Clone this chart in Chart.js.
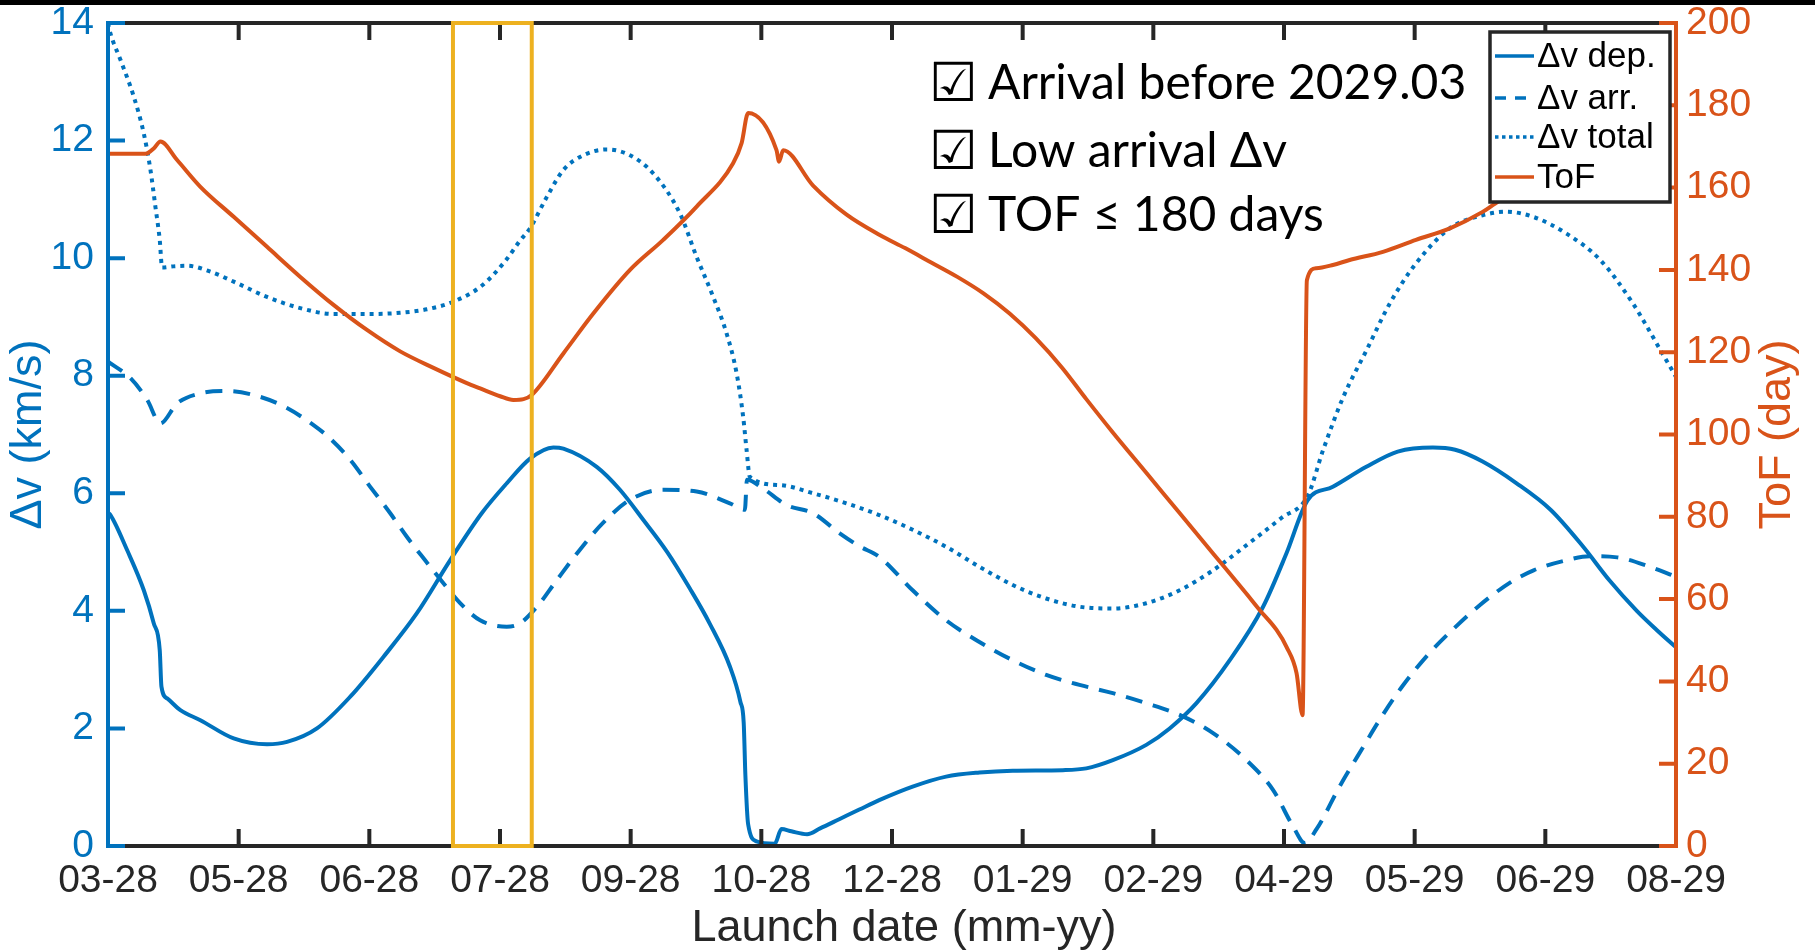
<!DOCTYPE html>
<html>
<head>
<meta charset="utf-8">
<script src="https://cdn.jsdelivr.net/npm/chart.js@4.4.1/dist/chart.umd.min.js"></script>
<style>
html,body{margin:0;padding:0;background:#fff;overflow:hidden}
canvas{display:block}
</style>
</head>
<body>
<canvas id="c" width="1815" height="950"></canvas>
<script>
// ---- tick labels (x axis = evenly spaced launch-date ticks, index 0..12) ----
const xTickLabels = ['03-28','05-28','06-28','07-28','09-28','10-28','12-28','01-29','02-29','04-29','05-29','06-29','08-29'];

// ---- Δv departure (km/s) ----
const depX = [0,0.019,0.147,0.274,0.35,0.396,0.409,0.453,0.554,0.707,0.962,1.217,1.37,1.599,1.854,2.109,2.364,2.618,2.86,3.052,3.23,3.408,3.485,3.74,3.918,4.096,4.28,4.453,4.606,4.76,4.84,4.865,4.878,4.899,4.963,5.103,5.154,5.23,5.35,5.45,5.6,5.75,5.902,6.158,6.414,6.669,6.924,7.307,7.487,7.69,7.946,8.125,8.33,8.585,8.84,9.019,9.18,9.374,9.63,9.87,10.14,10.31,10.52,10.78,11.04,11.29,11.49,11.7,11.85,12];
const depV = [5.67,5.63,5.03,4.35,3.79,3.33,2.71,2.51,2.31,2.14,1.83,1.73,1.77,2.00,2.54,3.22,3.96,4.86,5.66,6.17,6.59,6.78,6.76,6.45,6.06,5.55,5.00,4.38,3.78,3.05,2.45,2.10,1.20,0.37,0.08,0.04,0.29,0.25,0.20,0.30,0.46,0.62,0.78,1.01,1.18,1.25,1.28,1.29,1.32,1.46,1.72,2.00,2.43,3.16,4.07,4.98,5.88,6.11,6.45,6.71,6.78,6.74,6.54,6.17,5.72,5.09,4.52,4.00,3.68,3.38];

// ---- Δv arrival (km/s) ----
const arrX = [0,0.019,0.172,0.30,0.401,0.529,0.707,0.911,1.166,1.37,1.573,1.701,1.854,2.007,2.16,2.287,2.427,2.567,2.695,2.848,3.052,3.154,3.294,3.427,3.604,3.79,3.995,4.249,4.505,4.759,4.874,4.89,5.014,5.193,5.396,5.6,5.75,5.902,6.158,6.414,6.669,6.924,7.18,7.435,7.69,7.946,8.201,8.457,8.713,8.917,9.07,9.159,9.25,9.43,9.61,9.73,9.9,10.1,10.3,10.5,10.73,10.91,11.16,11.34,11.55,11.8,12];
const arrV = [8.24,8.21,7.96,7.59,7.19,7.53,7.70,7.74,7.64,7.45,7.16,6.93,6.57,6.11,5.66,5.26,4.86,4.47,4.13,3.84,3.73,3.79,4.10,4.50,5.02,5.50,5.89,6.06,6.03,5.83,5.72,6.23,6.08,5.80,5.66,5.32,5.10,4.92,4.35,3.84,3.47,3.16,2.91,2.74,2.60,2.43,2.23,1.92,1.46,0.95,0.33,0.05,0.29,1.03,1.70,2.14,2.70,3.25,3.70,4.10,4.48,4.69,4.86,4.93,4.91,4.75,4.58];

// ---- Δv total (km/s) ----
const totX = [0,0.019,0.096,0.197,0.274,0.325,0.363,0.396,0.414,0.5,0.605,0.784,0.962,1.217,1.472,1.726,1.982,2.236,2.44,2.644,2.86,3.04,3.154,3.23,3.358,3.485,3.638,3.817,3.995,4.173,4.377,4.505,4.632,4.734,4.811,4.861,4.887,4.912,5.141,5.396,5.651,5.902,6.158,6.414,6.669,6.924,7.18,7.435,7.69,7.946,8.201,8.457,8.72,8.98,9.18,9.30,9.454,9.633,9.81,10.01,10.27,10.52,10.70,10.91,11.16,11.42,11.67,11.88,12];
const totV = [14.0,13.82,13.37,12.75,12.12,11.50,10.87,10.31,9.84,9.86,9.87,9.77,9.60,9.34,9.15,9.05,9.05,9.07,9.13,9.26,9.53,9.95,10.30,10.51,11.04,11.50,11.75,11.85,11.75,11.44,10.76,10.02,9.34,8.72,8.04,7.30,6.74,6.28,6.14,6.00,5.83,5.63,5.38,5.09,4.75,4.44,4.21,4.07,4.04,4.13,4.35,4.69,5.13,5.58,5.95,6.74,7.64,8.44,9.23,9.91,10.51,10.73,10.79,10.70,10.42,9.97,9.23,8.44,7.98];

// ---- time of flight (days, right axis) ----
const tofX = [0,0.287,0.35,0.401,0.529,0.707,0.962,1.217,1.472,1.726,1.982,2.236,2.491,2.746,2.848,3.001,3.102,3.18,3.243,3.485,3.714,3.995,4.249,4.505,4.784,4.849,4.899,5.116,5.136,5.167,5.396,5.65,5.906,6.1,6.3,6.5,6.7,6.9,7.1,7.3,7.487,7.69,7.946,8.201,8.457,8.713,8.815,8.943,9.019,9.096,9.142,9.175,9.246,9.374,9.502,9.757,10.01,10.27,10.52,10.62,10.75];
const tofV = [168.2,168.2,169.5,171.2,166.7,160.2,152.9,145.6,138.3,131.5,125.4,120.2,116.2,112.5,111.2,109.3,108.4,108.6,109.6,119.7,129.4,140.0,147.3,155.4,165.9,170.8,178.1,169.1,166.3,169.1,160.5,153.5,148.5,145.3,141.8,138.3,134.3,129.4,123.4,116.3,108.6,100.5,90.7,80.9,71.1,61.3,57.3,52.5,48.4,42.0,31.8,137.5,140.4,141.2,142.4,144.4,147.3,150.1,154.1,156.2,158.5];

// ---- highlighted launch window (x range, index units) ----
const highlightWindow = [2.64, 3.243];

const seriesNames = ['\u0394v dep.', '\u0394v arr.', '\u0394v total', 'ToF'];
const noteMark = '\u2611';
const notes = ['Arrival before 2029.03', 'Low arrival \u0394v', 'TOF \u2264 180 days'];
const axisTitles = {x: 'Launch date (mm-yy)', y: '\u0394v (km/s)', y2: 'ToF (day)'};

const BLUE = '#0072BD', ORANGE = '#D95319', YELLOW = '#EDB120', INK = '#262626';
const FONT = "'Liberation Sans', Arial, sans-serif";

function pts(xs, ys) { return xs.map((x, i) => ({x: x, y: ys[i]})); }

const decor = {
  id: 'decor',
  beforeDraw(chart) {
    const c = chart.ctx;
    c.save();
    c.fillStyle = '#fff';
    c.fillRect(0, 0, chart.width, chart.height);
    c.fillStyle = '#000';
    c.fillRect(0, 0, chart.width, 5);
    c.restore();
  },
  afterDatasetsDraw(chart) {
    const c = chart.ctx, a = chart.chartArea;
    const sx = chart.scales.x, sy = chart.scales.y, sy2 = chart.scales.y2;
    const TL = 17;
    c.save();
    c.lineCap = 'butt';
    c.lineWidth = 4;
    // top & bottom frame
    c.strokeStyle = INK;
    c.beginPath();
    c.moveTo(a.left, a.top); c.lineTo(a.right, a.top);
    c.moveTo(a.left, a.bottom); c.lineTo(a.right, a.bottom);
    c.stroke();
    // x ticks (inward, bottom and top)
    c.beginPath();
    sx.ticks.forEach(t => {
      const px = sx.getPixelForValue(t.value);
      c.moveTo(px, a.bottom); c.lineTo(px, a.bottom - TL);
      c.moveTo(px, a.top); c.lineTo(px, a.top + TL);
    });
    c.stroke();
    // left axis
    c.strokeStyle = BLUE;
    c.beginPath();
    c.moveTo(a.left, a.top - 2); c.lineTo(a.left, a.bottom + 2);
    sy.ticks.forEach(t => {
      const py = sy.getPixelForValue(t.value);
      c.moveTo(a.left, py); c.lineTo(a.left + TL, py);
    });
    c.stroke();
    // right axis
    c.strokeStyle = ORANGE;
    c.beginPath();
    c.moveTo(a.right, a.top - 2); c.lineTo(a.right, a.bottom + 2);
    sy2.ticks.forEach(t => {
      const py = sy2.getPixelForValue(t.value);
      c.moveTo(a.right, py); c.lineTo(a.right - TL, py);
    });
    c.stroke();
    // highlighted window
    c.strokeStyle = YELLOW;
    c.lineWidth = 4;
    const x0 = sx.getPixelForValue(highlightWindow[0]), x1 = sx.getPixelForValue(highlightWindow[1]);
    const y0 = sy.getPixelForValue(sy.max), y1 = sy.getPixelForValue(sy.min);
    c.strokeRect(x0, y0, x1 - x0, y1 - y0);

    // legend
    const lx = 1490, ly = 32, lw = 180, lh = 170;
    c.fillStyle = '#fff';
    c.fillRect(lx, ly, lw, lh);
    c.strokeStyle = INK;
    c.lineWidth = 3.5;
    c.strokeRect(lx, ly, lw, lh);
    const rows = [56, 98, 137, 177];
    const styles = [
      {color: BLUE, dash: []},
      {color: BLUE, dash: [11, 9]},
      {color: BLUE, dash: [3.5, 3.5]},
      {color: ORANGE, dash: []}
    ];
    c.font = '35px ' + FONT;
    c.textBaseline = 'middle';
    c.textAlign = 'left';
    rows.forEach((ry, i) => {
      c.strokeStyle = styles[i].color;
      c.lineWidth = 3.5;
      c.setLineDash(styles[i].dash);
      c.beginPath();
      c.moveTo(lx + 5, ry); c.lineTo(lx + 44, ry);
      c.stroke();
      c.setLineDash([]);
      c.fillStyle = '#000';
      c.fillText(seriesNames[i], lx + 47, ry + 1);
    });

    // annotation notes
    c.fillStyle = '#000';
    c.textBaseline = 'alphabetic';
    const nb = [98.5, 166.5, 231];
    notes.forEach((t, i) => {
      c.font = "54px 'DejaVu Sans', sans-serif";
      c.fillText(noteMark, 929, nb[i] + 2);
      c.font = "48px Lato, 'Open Sans', sans-serif";
      c.fillText(t, 988, nb[i]);
    });

    // axis titles
    c.font = '45px ' + FONT;
    c.textAlign = 'center';
    c.textBaseline = 'middle';
    const cy = (a.top + a.bottom) / 2;
    c.fillStyle = BLUE;
    c.save(); c.translate(29, cy); c.rotate(-Math.PI / 2); c.fillText(axisTitles.y, 0, 0); c.restore();
    c.fillStyle = ORANGE;
    c.save(); c.translate(1778, cy); c.rotate(-Math.PI / 2); c.fillText(axisTitles.y2, 0, 0); c.restore();
    c.fillStyle = INK;
    c.fillText(axisTitles.x, (a.left + a.right) / 2 + 12, 929);
    c.restore();
  }
};

const tickFont = {family: FONT, size: 39};
function noPad(s) { s.paddingTop = 0; s.paddingBottom = 0; s.paddingLeft = 0; s.paddingRight = 0; }

new Chart(document.getElementById('c'), {
  type: 'line',
  data: {
    datasets: [
      {label: seriesNames[3], data: pts(tofX, tofV), yAxisID: 'y2', borderColor: ORANGE, borderWidth: 4, order: 0},
      {label: seriesNames[0], data: pts(depX, depV), yAxisID: 'y', borderColor: BLUE, borderWidth: 4, order: 1},
      {label: seriesNames[1], data: pts(arrX, arrV), yAxisID: 'y', borderColor: BLUE, borderWidth: 4, borderDash: [17, 11], order: 2},
      {label: seriesNames[2], data: pts(totX, totV), yAxisID: 'y', borderColor: BLUE, borderWidth: 4, borderDash: [4, 5], order: 3}
    ]
  },
  options: {
    responsive: false,
    animation: false,
    devicePixelRatio: 1,
    layout: {autoPadding: false, padding: {top: 23, left: 0, right: 0, bottom: 0}},
    plugins: {legend: {display: false}, tooltip: {enabled: false}},
    elements: {
      point: {radius: 0, hoverRadius: 0},
      line: {tension: 0, cubicInterpolationMode: 'monotone', borderCapStyle: 'butt', borderJoinStyle: 'round', fill: false}
    },
    scales: {
      x: {
        type: 'linear', min: 0, max: 12,
        grid: {display: false, drawTicks: false}, border: {display: false},
        ticks: {stepSize: 1, autoSkip: false, maxRotation: 0, padding: 12, color: INK, font: tickFont,
          callback: v => xTickLabels[v]},
        afterFit(s) { s.height = 104; noPad(s); }
      },
      y: {
        position: 'left', min: 0, max: 14,
        grid: {display: false, drawTicks: false}, border: {display: false},
        ticks: {stepSize: 2, padding: 14, color: BLUE, font: tickFont},
        afterFit(s) { s.width = 108; noPad(s); }
      },
      y2: {
        position: 'right', min: 0, max: 200,
        grid: {display: false, drawTicks: false}, border: {display: false},
        ticks: {stepSize: 20, padding: 10, color: ORANGE, font: tickFont},
        afterFit(s) { s.width = 139; noPad(s); }
      }
    }
  },
  plugins: [decor]
});
</script>
</body>
</html>
